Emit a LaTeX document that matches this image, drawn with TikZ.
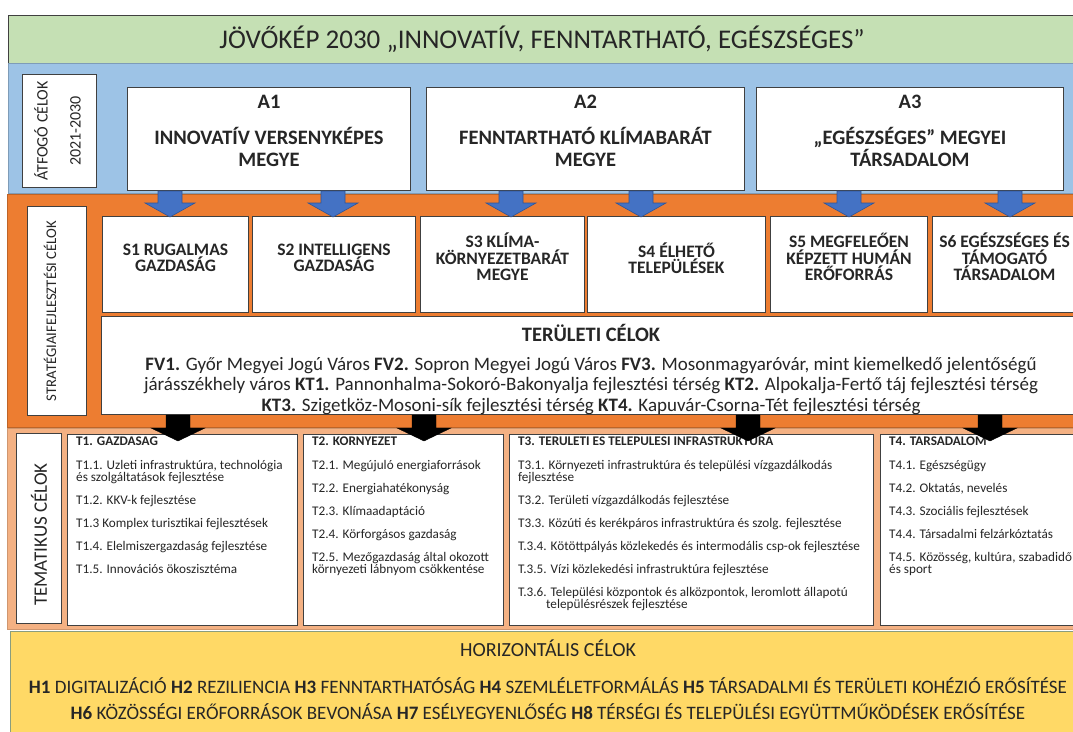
\documentclass[tikz,border=0pt]{standalone}
\usepackage{fontspec}
\setmainfont{Carlito}
\usetikzlibrary{calc}
\definecolor{hdrgreen}{HTML}{C5E0B4}
\definecolor{bandblue}{HTML}{9DC3E6}
\definecolor{bandorange}{HTML}{ED7D31}
\definecolor{bandsalmon}{HTML}{F4B183}
\definecolor{bandyellow}{HTML}{FFD966}
\definecolor{arrblue}{HTML}{4472C4}
\definecolor{arrblueedge}{HTML}{2F5597}
\definecolor{edgegray}{HTML}{404040}
\newcommand\fsz[2]{\fontsize{#1}{#2}\selectfont}
\newcommand\blockarrow[6]{%
  \filldraw[#1] (#2) ++({-#5},0) -- ++({2*#5},0) -- ++(0,#3) -- ++({#6-#5},0)
    -- ++({-#6},#4) -- ++({-#6},{-#4}) -- ++({#6-#5},0) -- cycle;}
\tikzset{
  band/.style={draw=edgegray, line width=0.8pt, anchor=north west, inner sep=0pt},
  wbox/.style={draw=edgegray, fill=white, line width=1pt, anchor=north west, inner sep=0pt},
  bluearr/.style={fill=arrblue, draw=arrblueedge, line width=0.6pt},
  blackarr/.style={fill=black, draw=black, line width=0.4pt},
  atext/.style={font=\bfseries\fsz{20.5}{22}, align=center, text=black!85},
  stext/.style={font=\bfseries\fsz{17.5}{16.5}, align=center, text=black!85},
  ttext/.style={font=\fsz{13.2}{12}, align=left, anchor=north west, inner sep=0pt, text=black!85},
  sidetext/.style={rotate=90, align=center, text=black!85},
}
\begin{document}
\begin{tikzpicture}[x=1pt,y=-1pt]
\useasboundingbox (0,0) rectangle (1073,731);
% bands
\node[band, fill=hdrgreen, minimum width=1080pt, minimum height=48pt] (hdr) at (8,15) {};
\node[band, fill=bandblue, draw=bandblue!80!black, minimum width=1080pt, minimum height=130pt] (blueband) at (8,63) {};
\node[band, fill=bandorange, draw=bandorange!80!black, minimum width=1080pt, minimum height=233pt] (orangeband) at (7,194) {};
\node[band, fill=bandsalmon, draw=bandsalmon!85!black, minimum width=1080pt, minimum height=201pt] (salmonband) at (7,428) {};
\node[band, fill=bandyellow, draw=hdrgreen!70!black, minimum width=1080pt, minimum height=110pt] (yellowband) at (10,631) {};
% header text
\node[font=\fsz{27}{32}, text=black!85] (hdrtext) at (542,39) {JÖVŐKÉP 2030 „INNOVATÍV, FENNTARTHATÓ, EGÉSZSÉGES”};
% átfogó célok
\node[wbox, minimum width=74pt, minimum height=113pt] (AT) at (22,74) {};
\node[sidetext, font=\fsz{16}{18}] (ATtext) at ($(AT.center)+(-2,0)$) {ÁTFOGÓ CÉLOK\\[15pt]2021-2030};
\node[wbox, minimum width=283pt, minimum height=103pt] (A1) at (127,87) {};
\node[wbox, minimum width=318pt, minimum height=103pt] (A2) at (426,87) {};
\node[wbox, minimum width=307pt, minimum height=103pt] (A3) at (756,87) {};
\node[atext] (A1t) at ($(A1.north)+(0,44)$) {A1\\[14pt]INNOVATÍV VERSENYKÉPES\\MEGYE};
\node[atext] (A2t) at ($(A2.north)+(0,44)$) {A2\\[14pt]FENNTARTHATÓ KLÍMABARÁT\\MEGYE};
\node[atext] (A3t) at ($(A3.north)+(0,44)$) {A3\\[14pt]„EGÉSZSÉGES” MEGYEI\\TÁRSADALOM};
% stratégiai
\node[wbox, minimum width=59pt, minimum height=209pt] (ST) at (27,206) {};
\node[sidetext, font=\fsz{14.7}{16}] (STtext) at ($(ST.center)+(-7,0)$) {STRATÉGIAIFEJLESZTÉSI CÉLOK};
\node[wbox, minimum width=146pt, minimum height=96pt] (S1) at (102,216) {};
\node[wbox, minimum width=163pt, minimum height=96pt] (S2) at (252,216) {};
\node[wbox, minimum width=164pt, minimum height=96pt] (S3) at (420,216) {};
\node[wbox, minimum width=178pt, minimum height=96pt] (S4) at (587,216) {};
\node[wbox, minimum width=157pt, minimum height=96pt] (S5) at (770,216) {};
\node[wbox, minimum width=144pt, minimum height=96pt] (S6) at (932,216) {};
\node[stext] (S1t) at ($(S1.north)+(0,42)$) {S1 RUGALMAS\\GAZDASÁG};
\node[stext] (S2t) at ($(S2.north)+(0,42)$) {S2 INTELLIGENS\\GAZDASÁG};
\node[stext] (S3t) at ($(S3.north)+(0,41)$) {S3 KLÍMA-\\KÖRNYEZETBARÁT\\MEGYE};
\node[stext] (S4t) at ($(S4.north)+(0,42)$) {S4 ÉLHETŐ\\TELEPÜLÉSEK};
\node[stext] (S5t) at ($(S5.north)+(0,41)$) {S5 MEGFELEŐEN\\KÉPZETT HUMÁN\\ERŐFORRÁS};
\node[stext] (S6t) at ($(S6.north)+(0,41)$) {S6 EGÉSZSÉGES ÉS\\TÁMOGATÓ\\TÁRSADALOM};
% területi célok
\node[wbox, minimum width=980pt, minimum height=98pt] (TC) at (101,316) {};
\node[font=\bfseries\fsz{20.5}{22}, text=black!85] (TCtitle) at (591,333) {TERÜLETI CÉLOK};
\begin{scope}
\clip ($(TC.north west)+(1,1)$) rectangle ($(TC.south east)+(-1,-1)$);
\node[font=\fsz{19}{20.5}, align=center, text=black!85] (TCtext) at (591,386) {%
\textbf{FV1.} Győr Megyei Jogú Város \textbf{FV2.} Sopron Megyei Jogú Város \textbf{FV3.} Mosonmagyaróvár, mint kiemelkedő jelentőségű\\
járásszékhely város \textbf{KT1.} Pannonhalma-Sokoró-Bakonyalja fejlesztési térség \textbf{KT2.} Alpokalja-Fertő táj fejlesztési térség\\
\textbf{KT3.} Szigetköz-Mosoni-sík fejlesztési térség \textbf{KT4.} Kapuvár-Csorna-Tét fejlesztési térség};
\end{scope}
% tematikus
\node[wbox, minimum width=45pt, minimum height=190pt] (TM) at (16,433) {};
\node[sidetext, font=\fsz{19}{21}] (TMtext) at ($(TM.center)+(0,6)$) {TEMATIKUS CÉLOK};
\node[wbox, minimum width=230pt, minimum height=191pt] (T1) at (67,434) {};
\node[wbox, minimum width=200pt, minimum height=191pt] (T2) at (303,434) {};
\node[wbox, minimum width=364pt, minimum height=191pt] (T3) at (509,434) {};
\node[wbox, minimum width=200pt, minimum height=191pt] (T4) at (880,434) {};
\node[ttext] (T1t) at ($(T1.north west)+(9,3)$) {\textbf{T1. GAZDASAG}\\[12pt]
T1.1. Uzleti infrastruktúra, technológia\\és szolgáltatások fejlesztése\\[11pt]
T1.2. KKV-k fejlesztése\\[11pt]
T1.3 Komplex turisztikai fejlesztések\\[11pt]
T1.4. Elelmiszergazdaság fejlesztése\\[11pt]
T1.5. Innovációs ökoszisztéma};
\node[ttext] (T2t) at ($(T2.north west)+(9,3)$) {\textbf{T2. KORNYEZET}\\[12pt]
T2.1. Megújuló energiaforrások\\[11pt]
T2.2. Energiahatékonyság\\[11pt]
T2.3. Klímaadaptáció\\[11pt]
T2.4. Körforgásos gazdaság\\[11pt]
T2.5. Mezőgazdaság által okozott\\környezeti lábnyom csökkentése};
\node[ttext] (T3t) at ($(T3.north west)+(9,3)$) {\textbf{T3. TERULETI ES TELEPULESI INFRASTRUKTURA}\\[12pt]
T3.1. Környezeti infrastruktúra és települési vízgazdálkodás\\fejlesztése\\[11pt]
T3.2. Területi vízgazdálkodás fejlesztése\\[11pt]
T3.3. Közúti és kerékpáros infrastruktúra és szolg. fejlesztése\\[11pt]
T.3.4. Kötöttpályás közlekedés és intermodális csp-ok fejlesztése\\[11pt]
T.3.5. Vízi közlekedési infrastruktúra fejlesztése\\[11pt]
T.3.6. Települési központok és alközpontok, leromlott állapotú\\\hspace*{28pt}településrészek fejlesztése};
\node[ttext] (T4t) at ($(T4.north west)+(9,3)$) {\textbf{T4. TARSADALOM}\\[12pt]
T4.1. Egészségügy\\[11pt]
T4.2. Oktatás, nevelés\\[11pt]
T4.3. Szociális fejlesztések\\[11pt]
T4.4. Társadalmi felzárkóztatás\\[11pt]
T4.5. Közösség, kultúra, szabadidő\\és sport};
% horizontális
\node[font=\fsz{19}{26}, align=center, text=black!85] (HC) at (548,680) {{\fsz{20}{26}HORIZONTÁLIS CÉLOK}\\[11pt]
\textbf{H1} DIGITALIZÁCIÓ \textbf{H2} REZILIENCIA \textbf{H3} FENNTARTHATÓSÁG \textbf{H4} SZEMLÉLETFORMÁLÁS \textbf{H5} TÁRSADALMI ÉS TERÜLETI KOHÉZIÓ ERŐSÍTÉSE\\
\textbf{H6} KÖZÖSSÉGI ERŐFORRÁSOK BEVONÁSA \textbf{H7} ESÉLYEGYENLŐSÉG \textbf{H8} TÉRSÉGI ÉS TELEPÜLÉSI EGYÜTTMŰKÖDÉSEK ERŐSÍTÉSE};
% blue arrows (A -> S)
\coordinate (ba1) at ($(A1.south west)+(43,0)$);
\coordinate (ba2) at ($(A1.south west)+(206,0)$);
\coordinate (ba3) at ($(A2.south west)+(85,0)$);
\coordinate (ba4) at ($(A2.south west)+(215,0)$);
\coordinate (ba5) at ($(A3.south west)+(93,0)$);
\coordinate (ba6) at ($(A3.south west)+(254,0)$);
\foreach \c in {ba1,ba2,ba3,ba4,ba5,ba6}{\blockarrow{bluearr}{\c}{12}{14}{12}{25}}
% black arrows (TC -> T)
\coordinate (ka1) at ($(TC.south west)+(77,0)$);
\coordinate (ka2) at ($(TC.south west)+(323,0)$);
\coordinate (ka3) at ($(TC.south west)+(647,0)$);
\coordinate (ka4) at ($(TC.south west)+(889,0)$);
\foreach \c in {ka1,ka2,ka3,ka4}{\blockarrow{blackarr}{\c}{13}{13}{12}{27}}
\end{tikzpicture}
\end{document}
